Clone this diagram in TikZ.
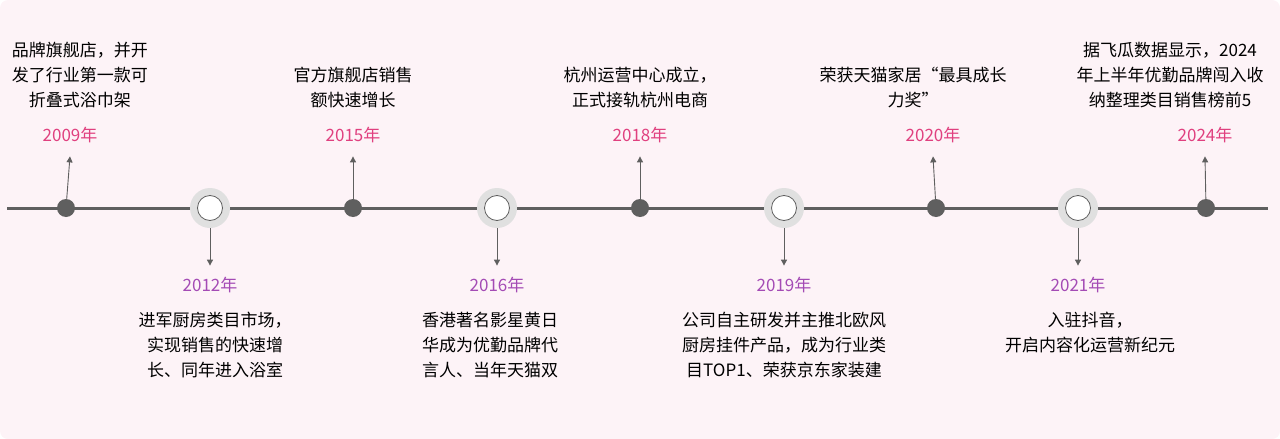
\documentclass[tikz,border=0pt]{standalone}
\usepackage{fontspec}
\setmainfont{Noto Sans CJK SC}
\usetikzlibrary{arrows.meta, positioning}
\definecolor{bgpink}{HTML}{FDF3F7}
\definecolor{linegray}{HTML}{5F5F5F}
\definecolor{yearpink}{HTML}{E0407F}
\definecolor{yearpurple}{HTML}{A44BB5}

\begin{document}
\begin{tikzpicture}[
            x=1pt, y=-1pt,
            dot/.style={circle, fill=linegray, minimum size=18pt, inner sep=0pt},
            ring/.style={circle, draw=linegray, fill=white, line width=0.8pt, minimum size=25pt, inner sep=0pt},
            ringback/.style={circle, fill=black!12, minimum size=40pt, inner sep=0pt},
            arrow/.style={-{Triangle[length=6pt, width=6pt]}, linegray, line width=0.9pt},
            upyear/.style={font=\fontsize{17}{20}\selectfont, text=yearpink},
            downyear/.style={font=\fontsize{17}{20}\selectfont, text=yearpurple},
            event/.style={align=center, font=\fontsize{17}{25}\selectfont, inner sep=0pt}
        ]
    \fill[bgpink, rounded corners=8pt] (0,0) rectangle (1280,439);
    \useasboundingbox (0,0) rectangle (1280,439);

    \draw[linegray, line width=3pt] (7,208) -- (1268,208);

    % upper events
    \node[dot] (d2009) at (66,208) {};
    \node[dot] (d2015) at (353,208) {};
    \node[dot] (d2018) at (640,208) {};
    \node[dot] (d2020) at (936,208) {};
    \node[dot] (d2024) at (1206,208) {};

    \node[upyear] (y2009) at (70,135) {2009年};
    \node[upyear] (y2015) at (353,135) {2015年};
    \node[upyear] (y2018) at (640,135) {2018年};
    \node[upyear] (y2020) at (933,135) {2020年};
    \node[upyear] (y2024) at (1205,135) {2024年};

    \foreach \yr in {2009,2015,2018,2020,2024}
        \draw[arrow] (d\yr) -- ([yshift=-10pt]y\yr.south);

    \node[event, anchor=south] (t2009) at (80,108) {品牌旗舰店，并开\\发了行业第一款可\\折叠式浴巾架};
    \node[event, anchor=south] (t2015) at (353,108) {官方旗舰店销售\\额快速增长};
    \node[event, anchor=south] (t2018) at (640,108) {杭州运营中心成立，\\正式接轨杭州电商};
    \node[event, anchor=south] (t2020) at (913,108) {荣获天猫家居“最具成长\\力奖”};
    \node[event, anchor=south] (t2024) at (1170,108) {据飞瓜数据显示，2024\\年上半年优勤品牌闯入收\\纳整理类目销售榜前5};

    % lower events
    \foreach \yr/\px in {2012/210, 2016/497, 2019/784, 2021/1078} {
        \node[ringback] (b\yr) at (\px,208) {};
        \node[ring] (d\yr) at (\px,208) {};
    }

    \node[downyear] (y2012) at (210,285) {2012年};
    \node[downyear] (y2016) at (497,285) {2016年};
    \node[downyear] (y2019) at (784,285) {2019年};
    \node[downyear] (y2021) at (1078,285) {2021年};

    \foreach \yr in {2012,2016,2019,2021}
        \draw[arrow] (b\yr) -- ([yshift=8pt]y\yr.north);

    \node[event, anchor=north] (t2012) at (215,312) {进军厨房类目市场，\\实现销售的快速增\\长、同年进入浴室};
    \node[event, anchor=north] (t2016) at (490,312) {香港著名影星黄日\\华成为优勤品牌代\\言人、当年天猫双};
    \node[event, anchor=north] (t2019) at (784,312) {公司自主研发并主推北欧风\\厨房挂件产品，成为行业类\\目TOP1、荣获京东家装建};
    \node[event, anchor=north] (t2021) at (1090,312) {入驻抖音，\\开启内容化运营新纪元};

\end{tikzpicture}
\end{document}
